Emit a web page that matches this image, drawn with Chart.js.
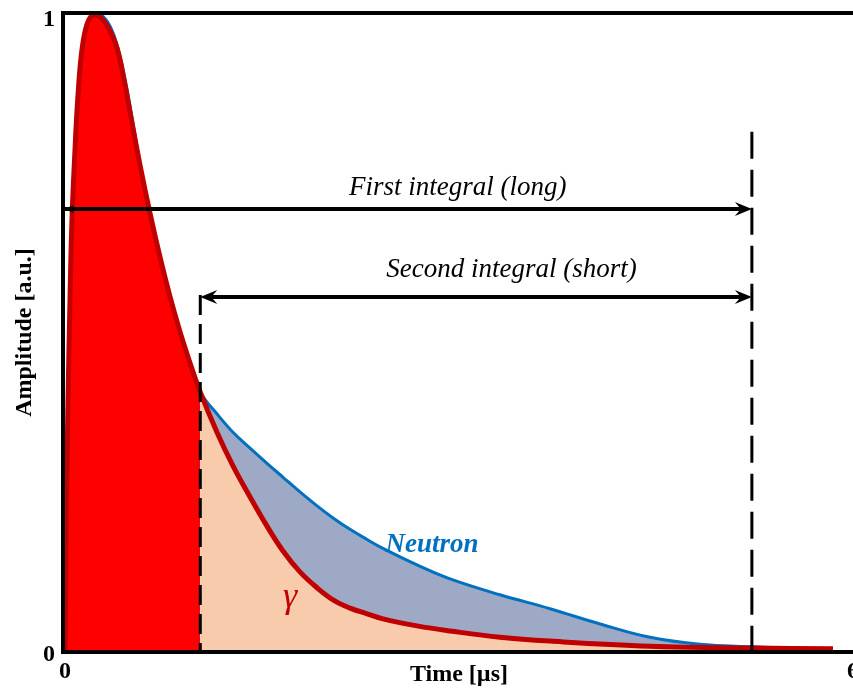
<!DOCTYPE html>
<html>
<head>
<meta charset="utf-8">
<title>Pulse shape discrimination</title>
<script src="https://cdn.jsdelivr.net/npm/chart.js@4.4.1/dist/chart.umd.min.js"></script>
<style>
  html, body { margin: 0; padding: 0; background: #fff; overflow: hidden; }
  #wrap { width: 880px; height: 689px; }
</style>
</head>
<body>
<div id="wrap"><canvas id="pulseChart"></canvas></div>
<script>
// gamma pulse (normalised amplitude vs time in µs)
const gammaTime = [0, 0.008, 0.015, 0.023, 0.038, 0.053, 0.076, 0.099, 0.129, 0.168, 0.213, 0.267, 0.327, 0.396,
  0.457, 0.495, 0.571, 0.647, 0.723, 0.800, 0.876, 0.952, 1.03, 1.157, 1.279, 1.409, 1.538, 1.660, 1.789, 1.919,
  2.041, 2.170, 2.300, 2.421, 2.680, 2.932, 3.312, 3.693, 4.454, 5.23, 5.848];
const gammaAmp = [0, 0.142, 0.283, 0.394, 0.551, 0.677, 0.787, 0.874, 0.945, 0.986, 1.0, 0.997, 0.981, 0.948,
  0.890, 0.847, 0.764, 0.688, 0.619, 0.556, 0.501, 0.452, 0.406, 0.343, 0.290, 0.241, 0.195, 0.156, 0.123, 0.098,
  0.079, 0.066, 0.057, 0.049, 0.038, 0.030, 0.020, 0.014, 0.006, 0.003, 0.002];

// neutron pulse, same rise but a slower tail
const neutronTime = [0, 0.008, 0.015, 0.023, 0.038, 0.053, 0.076, 0.099, 0.129, 0.168, 0.228, 0.289, 0.358, 0.419,
  0.480, 0.533, 0.571, 0.647, 0.723, 0.800, 0.876, 0.952, 1.03, 1.157, 1.279, 1.409, 1.538, 1.660, 1.789, 1.919,
  2.041, 2.170, 2.300, 2.421, 2.680, 2.932, 3.312, 3.693, 4.074, 4.454, 4.835, 5.23, 5.52];
const neutronAmp = [0, 0.142, 0.283, 0.394, 0.551, 0.677, 0.787, 0.874, 0.945, 0.986, 1.0, 0.998, 0.976, 0.935,
  0.874, 0.811, 0.764, 0.688, 0.619, 0.556, 0.501, 0.452, 0.406, 0.372, 0.343, 0.318, 0.294, 0.272, 0.249, 0.227,
  0.208, 0.190, 0.174, 0.160, 0.134, 0.112, 0.087, 0.065, 0.041, 0.020, 0.009, 0.005, 0.003];

// integration windows
const gateStart = 1.03;
const gateEnd = 5.23;
const longMarkerTop = 0.816;
const shortMarkerTop = 0.559;
const longArrowY = 0.6945;
const shortArrowY = 0.556;

const xTicks = [0, 6];
const yTicks = [0, 1];

const serif = '"Liberation Serif", "Times New Roman", serif';

function points(xs, ys, from, to) {
  const out = [];
  xs.forEach((t, i) => {
    if (t >= from && t <= to) out.push({ x: t, y: ys[i] });
  });
  return out;
}

function arrowHead(ctx, tipX, tipY, dir, len, half) {
  ctx.beginPath();
  ctx.moveTo(tipX, tipY);
  ctx.lineTo(tipX - dir * len, tipY - half);
  ctx.lineTo(tipX - dir * len * 0.65, tipY);
  ctx.lineTo(tipX - dir * len, tipY + half);
  ctx.closePath();
  ctx.fill();
}

// frame, arrows and labels on top of the curves
const overlay = {
  id: 'overlay',
  afterDatasetsDraw(chart) {
    const { ctx, chartArea: a, scales: { x, y } } = chart;
    ctx.save();
    ctx.strokeStyle = '#000';
    ctx.fillStyle = '#000';
    ctx.lineWidth = 4;
    ctx.beginPath();
    ctx.moveTo(a.right + 2, a.top - 2);
    ctx.lineTo(a.left - 2, a.top - 2);
    ctx.lineTo(a.left - 2, a.bottom + 2);
    ctx.lineTo(a.right + 2, a.bottom + 2);
    ctx.stroke();

    // long integral arrow
    const y1 = y.getPixelForValue(longArrowY);
    const xa = x.getPixelForValue(0), xb = x.getPixelForValue(gateEnd);
    ctx.beginPath();
    ctx.moveTo(xa, y1);
    ctx.lineTo(xb - 11, y1);
    ctx.stroke();
    arrowHead(ctx, xa - 1, y1, -1, 10, 4);
    arrowHead(ctx, xb, y1, 1, 17, 7);

    // short integral arrow
    const y2 = y.getPixelForValue(shortArrowY);
    const xc = x.getPixelForValue(gateStart);
    ctx.beginPath();
    ctx.moveTo(xc + 11, y2);
    ctx.lineTo(xb - 11, y2);
    ctx.stroke();
    arrowHead(ctx, xc, y2, -1, 17, 7);
    arrowHead(ctx, xb, y2, 1, 17, 7);

    ctx.textAlign = 'center';
    ctx.textBaseline = 'middle';
    ctx.font = 'italic 27px ' + serif;
    ctx.fillText('First integral (long)', x.getPixelForValue(2.99), y.getPixelForValue(0.728));
    ctx.fillText('Second integral (short)', x.getPixelForValue(3.40), y.getPixelForValue(0.598));

    ctx.fillStyle = '#0070c0';
    ctx.font = 'bold italic 27px ' + serif;
    ctx.fillText('Neutron', x.getPixelForValue(2.795), y.getPixelForValue(0.165));

    ctx.fillStyle = '#c00000';
    ctx.font = 'italic 36px ' + serif;
    ctx.fillText('γ', x.getPixelForValue(1.714), y.getPixelForValue(0.082));
    ctx.restore();
  }
};

const curve = { pointRadius: 0, tension: 0.4, fill: false };
const hidden = { pointRadius: 0, tension: 0.4, borderWidth: 0, borderColor: 'rgba(0,0,0,0)' };

new Chart(document.getElementById('pulseChart'), {
  type: 'line',
  data: {
    datasets: [
      { data: [{ x: gateEnd, y: longMarkerTop }, { x: gateEnd, y: 0 }], borderColor: '#000', borderWidth: 3,
        borderDash: [27, 11], pointRadius: 0, fill: false },
      { data: [{ x: gateStart, y: shortMarkerTop }, { x: gateStart, y: 0 }], borderColor: '#000', borderWidth: 3,
        borderDash: [20, 9], pointRadius: 0, fill: false },
      { ...curve, label: 'γ', data: points(gammaTime, gammaAmp, 0, 99), borderColor: '#c00000', borderWidth: 5 },
      { ...curve, label: 'Neutron', data: points(neutronTime, neutronAmp, 0, 99), borderColor: '#0070c0', borderWidth: 3 },
      { ...hidden, data: points(gammaTime, gammaAmp, 0, gateStart), fill: 'origin', backgroundColor: '#ff0000' },
      { ...hidden, data: points(gammaTime, gammaAmp, gateStart, gateEnd), fill: 'origin', backgroundColor: '#f8cbad' },
      { ...hidden, data: points(neutronTime, neutronAmp, gateStart, gateEnd), fill: 5, backgroundColor: '#9eaac5' }
    ]
  },
  options: {
    responsive: true,
    maintainAspectRatio: false,
    animation: false,
    layout: { padding: { top: 15, right: 27, left: 0, bottom: 0 } },
    plugins: {
      legend: { display: false },
      tooltip: { enabled: false }
    },
    scales: {
      x: {
        type: 'linear', min: 0, max: 6,
        afterBuildTicks: s => { s.ticks = xTicks.map(v => ({ value: v })); },
        afterFit: s => { s.height = 39; },
        grid: { display: false, drawTicks: false },
        border: { display: false },
        ticks: { color: '#000', padding: 7, maxRotation: 0, font: { family: serif, size: 24, weight: 'bold' } },
        title: { display: true, text: 'Time [µs]', color: '#000', padding: 0,
          font: { family: serif, size: 24, weight: 'bold' } }
      },
      y: {
        type: 'linear', min: 0, max: 1,
        afterBuildTicks: s => { s.ticks = yTicks.map(v => ({ value: v })); },
        afterFit: s => { s.width = 65; s.paddingTop = 0; s.paddingBottom = 0; },
        grid: { display: false, drawTicks: false },
        border: { display: false },
        ticks: { color: '#000', padding: 10, labelOffset: 5, font: { family: serif, size: 24, weight: 'bold' } },
        title: { display: true, text: 'Amplitude [a.u.]', color: '#000', padding: { top: 10, bottom: 0 },
          font: { family: serif, size: 24, weight: 'bold' } }
      }
    }
  },
  plugins: [overlay]
});
</script>
</body>
</html>
